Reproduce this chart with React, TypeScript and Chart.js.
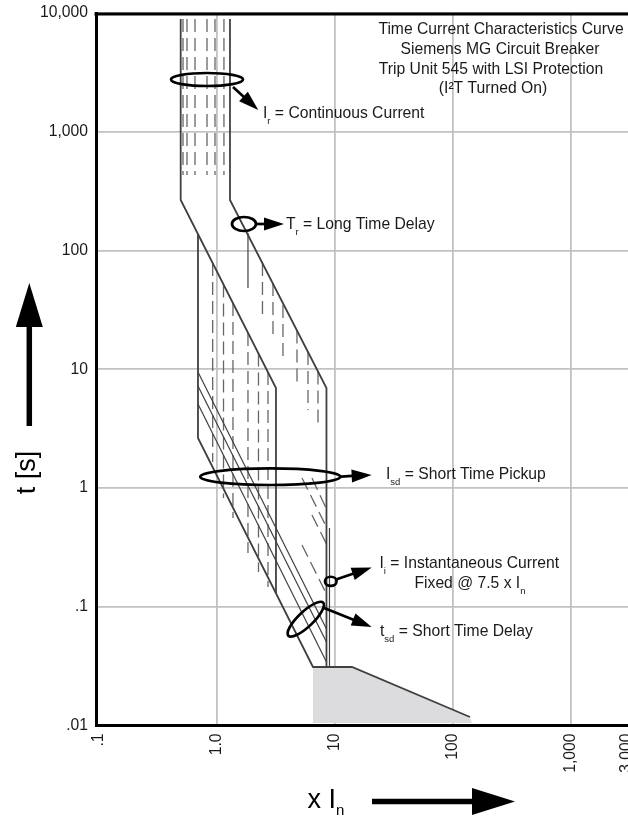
import React, { useEffect, useRef } from 'react';
import { Chart, registerables } from 'chart.js';

Chart.register(...registerables);

const FONT = "'Liberation Sans', Arial, Helvetica, sans-serif";
const W = 700;
const H = 817;
const F = 15.7;
const SUBF = 9.5;
const SUBDY = 5.5;

// ---- axes ----
const xTickValues = [0.1, 1, 10, 100, 1000, 3000];
const xTickLabels = ['.1', '1.0', '10', '100', '1,000', '3,000'];
const yTickValues = [0.01, 0.1, 1, 10, 100, 1000, 10000];
const yTickLabels = ['.01', '.1', '1', '10', '100', '1,000', '10,000'];

// ---- solid curve boundaries: [current (x In), time (s)] ----
const longTimeLower = [[0.496, 8899], [0.496, 266.3], [3.185, 6.95], [3.185, 0.13]];
const shortTimeLower = [[0.695, 137.7], [0.695, 2.637], [6.557, 0.0311], [14.04, 0.0311], [140.4, 0.01179]];
const upperBoundary = [[1.298, 8899], [1.298, 266.3], [8.532, 6.95], [8.532, 0.0311]];
const shortTimeBand1 = [[0.695, 9.48], [8.532, 0.065]];
const shortTimeBand2 = [[0.695, 7.23], [8.532, 0.0505]];
const shortTimeBand3 = [[0.695, 5.10], [8.532, 0.0342]];
const longDelayMark = [[1.844, 140.4], [1.844, 48.3]];
const instantaneous = [[9.05, 0.46], [9.05, 0.0311]];
const clearingArea = [[6.557, 0.0311], [14.04, 0.0311], [140.4, 0.01179], [145.9, 0.0105], [6.557, 0.0105], [6.557, 0.0311]];

// ---- dashed setting lines ----
const pickupX = [0.519, 0.561, 0.656, 0.829, 0.969, 1.154];
const pickupFrom = [8899, 8899, 8899, 8899, 8899, 8899];
const pickupTo = [432.3, 432.3, 432.3, 432.3, 432.3, 432.3];
const lowerDelayX = [0.926, 1.144, 1.376, 1.844, 2.264, 2.725];
const lowerDelayFrom = [78.5, 51.8, 36.1, 20.2, 13.57, 9.48];
const lowerDelayTo = [1.655, 0.824, 0.559, 0.2836, 0.196, 0.1466];
const upperDelayX = [2.447, 3.004, 3.651, 4.799, 5.948, 7.23];
const upperDelayFrom = [78.5, 53.2, 34.8, 21.2, 13.97, 9.59];
const upperDelayTo = [27.0, 17.63, 12.43, 7.09, 4.54, 3.2];
const shortDelayDashes = [
  [[5.29, 1.214], [8.532, 0.469]],
  [[6.43, 1.214], [8.532, 0.666]],
  [[6.43, 0.592], [8.532, 0.3376]],
  [[5.29, 0.331], [8.532, 0.128]],
];

// ---- annotations (anchors in data units) ----
type Part = { t: string; sub?: boolean };
type Line = { at: number[]; align?: 'left' | 'center'; parts: Part[] };
type Note = { center: number[]; rx: number; ry: number; rot: number; from: number[]; to: number[]; lines: Line[] };

const notes: Note[] = [
  {
    center: [0.829, 2754], rx: 36, ry: 6.5, rot: 0, from: [1.376, 2381], to: [2.255, 1525],
    lines: [{ at: [2.472, 1298], parts: [{ t: 'I' }, { t: 'r', sub: true }, { t: ' = Continuous Current' }] }],
  },
  {
    center: [1.706, 167.2], rx: 12, ry: 7, rot: 0, from: [2.156, 167.2], to: [3.723, 167.2],
    lines: [{ at: [3.871, 150.8], parts: [{ t: 'T' }, { t: 'r', sub: true }, { t: ' = Long Time Delay' }] }],
  },
  {
    center: [2.85, 1.245], rx: 70, ry: 8.3, rot: 0, from: [11.32, 1.249], to: [20.61, 1.287],
    lines: [{ at: [27.25, 1.184], parts: [{ t: 'I' }, { t: 'sd', sub: true }, { t: ' = Short Time Pickup' }] }],
  },
  {
    center: [9.28, 0.1637], rx: 5.8, ry: 4.6, rot: 0, from: [10.27, 0.1696], to: [20.61, 0.2141],
    lines: [
      { at: [24.0, 0.2108], parts: [{ t: 'I' }, { t: 'i', sub: true }, { t: ' = Instantaneous Current' }] },
      { at: [140.4, 0.143], align: 'center', parts: [{ t: 'Fixed @ 7.5 x I' }, { t: 'n', sub: true }] },
    ],
  },
  {
    center: [5.698, 0.0786], rx: 24, ry: 7.5, rot: -0.76, from: [7.97, 0.0986], to: [20.61, 0.0675],
    lines: [{ at: [24.24, 0.0567], parts: [{ t: 't' }, { t: 'sd', sub: true }, { t: ' = Short Time Delay' }] }],
  },
];

const titleLines = [
  'Time Current Characteristics Curve',
  'Siemens MG Circuit Breaker',
  'Trip Unit 545 with LSI Protection',
  '(I\u00B2T Turned On)',
];

// ---- helpers ----
const pts = (arr: number[][]) => arr.map(([x, y]) => ({ x, y }));

const solid = (arr: number[][], width = 1.8) => ({
  data: pts(arr), showLine: true, borderColor: '#404040', borderWidth: width,
  pointRadius: 0, fill: false, tension: 0, order: 1,
});
const dashed = (arr: number[][]) => ({
  data: pts(arr), showLine: true, borderColor: '#666666', borderWidth: 1.3, borderDash: [13, 6],
  pointRadius: 0, fill: false, tension: 0, order: 2,
});

function drawRich(ctx: CanvasRenderingContext2D, x: number, y: number, parts: Part[], align: string = 'left', size = F, subSize = SUBF, subDy = SUBDY) {
  const widths = parts.map((p) => {
    ctx.font = `${p.sub ? subSize : size}px ${FONT}`;
    return ctx.measureText(p.t).width;
  });
  const total = widths.reduce((a, b) => a + b, 0);
  let cx = align === 'center' ? x - total / 2 : x;
  ctx.textAlign = 'left';
  ctx.textBaseline = 'alphabetic';
  parts.forEach((p, i) => {
    ctx.font = `${p.sub ? subSize : size}px ${FONT}`;
    ctx.fillText(p.t, cx, p.sub ? y + subDy : y);
    cx += widths[i];
  });
}

function arrow(ctx: CanvasRenderingContext2D, x1: number, y1: number, x2: number, y2: number, lw: number, headLen: number, headHalf: number) {
  const a = Math.atan2(y2 - y1, x2 - x1);
  const bx = x2 - headLen * Math.cos(a);
  const by = y2 - headLen * Math.sin(a);
  ctx.lineWidth = lw;
  ctx.beginPath();
  ctx.moveTo(x1, y1);
  ctx.lineTo(bx + Math.cos(a), by + Math.sin(a));
  ctx.stroke();
  ctx.beginPath();
  ctx.moveTo(x2, y2);
  ctx.lineTo(bx + headHalf * Math.sin(a), by - headHalf * Math.cos(a));
  ctx.lineTo(bx - headHalf * Math.sin(a), by + headHalf * Math.cos(a));
  ctx.closePath();
  ctx.fill();
}

const overlay = {
  id: 'overlay',
  afterDatasetsDraw(chart: any) {
    const { ctx, chartArea, scales } = chart;
    const sx = scales.x;
    const sy = scales.y;
    const px = (v: number) => sx.getPixelForValue(v);
    const py = (v: number) => sy.getPixelForValue(v);
    ctx.save();
    // top frame line
    ctx.strokeStyle = '#000';
    ctx.lineWidth = 2.8;
    ctx.beginPath();
    ctx.moveTo(chartArea.left - 1.5, chartArea.top + 1);
    ctx.lineTo(chartArea.right, chartArea.top + 1);
    ctx.stroke();

    ctx.fillStyle = '#000';
    ctx.strokeStyle = '#000';
    notes.forEach((n) => {
      ctx.lineWidth = 2.7;
      ctx.beginPath();
      ctx.ellipse(px(n.center[0]), py(n.center[1]), n.rx, n.ry, n.rot, 0, Math.PI * 2);
      ctx.stroke();
      arrow(ctx, px(n.from[0]), py(n.from[1]), px(n.to[0]), py(n.to[1]), 2.7, 20, 6.5);
    });
    ctx.fillStyle = '#1a1a1a';
    notes.forEach((n) => {
      n.lines.forEach((l) => drawRich(ctx, px(l.at[0]), py(l.at[1]), l.parts, l.align || 'left'));
    });

    // title block
    ctx.font = `${F}px ${FONT}`;
    ctx.textAlign = 'center';
    ctx.textBaseline = 'alphabetic';
    const cxs = [501, 500, 491, 493];
    const bys = [33.5, 53.5, 73.5, 92.5];
    titleLines.forEach((t, i) => ctx.fillText(t, cxs[i], bys[i]));
    ctx.restore();
  },
  afterDraw(chart: any) {
    const { ctx } = chart;
    ctx.save();
    ctx.fillStyle = '#000';
    ctx.strokeStyle = '#000';
    // y axis title + arrow
    ctx.save();
    ctx.translate(34.5, 472.5);
    ctx.rotate(-Math.PI / 2);
    ctx.font = `27px ${FONT}`;
    ctx.textAlign = 'center';
    ctx.textBaseline = 'alphabetic';
    ctx.fillText('t [s]', 0, 0);
    ctx.restore();
    arrow(ctx, 29.3, 426, 29.3, 283, 5.5, 44, 13.5);
    // x axis title + arrow
    drawRich(ctx, 307.5, 808, [{ t: 'x I' }, { t: 'n', sub: true }], 'left', 27, 15, 7);
    arrow(ctx, 372, 801.5, 515, 801.5, 5.5, 43, 13.5);
    ctx.restore();
  },
};

export default function App() {
  const ref = useRef<HTMLCanvasElement>(null);
  useEffect(() => {
    const datasets: any[] = [
      {
        data: pts(clearingArea), showLine: true, fill: 'shape', backgroundColor: '#dcdcde',
        borderColor: 'rgba(0,0,0,0)', borderWidth: 1, pointRadius: 0, tension: 0, order: 9,
      },
      solid(longTimeLower),
      solid(shortTimeLower),
      solid(upperBoundary),
      solid(shortTimeBand1, 1.2),
      solid(shortTimeBand2, 1.2),
      solid(shortTimeBand3, 1.2),
      solid(longDelayMark, 1.2),
      solid(instantaneous, 1.2),
    ];
    pickupX.forEach((x, i) => datasets.push(dashed([[x, pickupFrom[i]], [x, pickupTo[i]]])));
    lowerDelayX.forEach((x, i) => datasets.push(dashed([[x, lowerDelayFrom[i]], [x, lowerDelayTo[i]]])));
    upperDelayX.forEach((x, i) => datasets.push(dashed([[x, upperDelayFrom[i]], [x, upperDelayTo[i]]])));
    shortDelayDashes.forEach((seg) => datasets.push(dashed(seg)));

    const tickFont = { family: FONT, size: F };
    const chart = new Chart(ref.current as HTMLCanvasElement, {
      type: 'scatter',
      data: { datasets },
      plugins: [overlay],
      options: {
        animation: false,
        responsive: false,
        devicePixelRatio: 1,
        events: [],
        layout: { padding: { top: 13, left: 0, right: 0, bottom: 0 } },
        plugins: { legend: { display: false }, tooltip: { enabled: false }, title: { display: false } },
        scales: {
          x: {
            type: 'logarithmic',
            min: 0.095,
            max: 12500,
            afterBuildTicks: (s: any) => { s.ticks = xTickValues.map((v) => ({ value: v })); },
            afterFit: (s: any) => { s.height = H - 725.5; s.paddingLeft = 0; s.paddingRight = 0; },
            ticks: {
              autoSkip: false,
              minRotation: 90,
              maxRotation: 90,
              padding: 8,
              color: '#1a1a1a',
              font: tickFont,
              callback: (v: any) => xTickLabels[xTickValues.indexOf(Number(v))] ?? '',
            },
            grid: {
              color: (c: any) => (c.tick && (c.tick.value === 0.1 || c.tick.value === 3000) ? 'rgba(0,0,0,0)' : '#c2c2c2'),
              lineWidth: 1.8,
              drawTicks: false,
            },
            border: { display: true, color: '#000', width: 3 },
          },
          y: {
            type: 'logarithmic',
            min: 0.01,
            max: 10000,
            afterBuildTicks: (s: any) => { s.ticks = yTickValues.map((v) => ({ value: v })); },
            afterFit: (s: any) => { s.width = 96; s.paddingTop = 0; s.paddingBottom = 0; },
            ticks: {
              autoSkip: false,
              padding: 8,
              color: '#1a1a1a',
              font: tickFont,
              callback: (v: any) => yTickLabels[yTickValues.indexOf(Number(v))] ?? '',
            },
            grid: { color: '#c2c2c2', lineWidth: 1.8, drawTicks: false },
            border: { display: true, color: '#000', width: 3 },
          },
        },
      } as any,
    });
    return () => chart.destroy();
  }, []);
  return (
    <div style={{ position: 'fixed', left: 0, top: 0, width: 628, height: 817, overflow: 'hidden', background: '#fff' }}>
      <canvas ref={ref} width={W} height={H} style={{ display: 'block', width: W, height: H }} />
    </div>
  );
}
